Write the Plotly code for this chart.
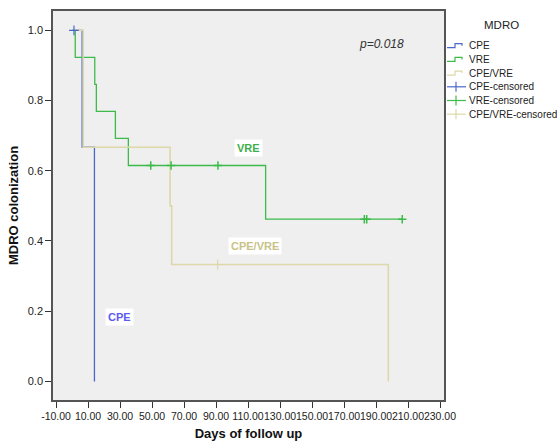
import plotly.graph_objects as go

# ---- data ----
cpe_t = [0, 6.3, 14.0]
cpe_s = [1.0, 0.667, 0.0]
cpe_cens_t = [1.2]
cpe_cens_s = [1.0]

vre_t = [0, 2.0, 14.2, 15.2, 27.1, 35.2, 121.0, 206.4]
vre_s = [1.0, 0.923, 0.846, 0.769, 0.692, 0.615, 0.462, 0.462]
vre_cens_t = [49.2, 61.9, 91.2, 182.7, 184.2, 206.4]
vre_cens_s = [0.615, 0.615, 0.615, 0.462, 0.462, 0.462]

cv_t = [0, 7.0, 61.3, 62.3, 197.7]
cv_s = [1.0, 0.667, 0.5, 0.333, 0.0]
cv_cens_t = [91.0]
cv_cens_s = [0.333]

x_ticks = [-10, 10, 30, 50, 70, 90, 110, 130, 150, 170, 190, 210, 230]
x_ticktext = [f"{v:.2f}" for v in x_ticks]
y_ticks = [0.0, 0.2, 0.4, 0.6, 0.8, 1.0]

legend_names = ["CPE", "VRE", "CPE/VRE", "CPE-censored", "VRE-censored", "CPE/VRE-censored"]

C_CPE = "#4a68cc"
C_VRE = "#3dbb4a"
C_CV = "#ddd8a8"
legend_colors = [C_CPE, C_VRE, C_CV, C_CPE, C_VRE, C_CV]

FONT = "Liberation Sans, Arial, sans-serif"

fig = go.Figure()
fig.add_trace(go.Scatter(x=cpe_t, y=cpe_s, mode="lines", line=dict(color=C_CPE, width=1.3, shape="hv"), name="CPE"))
fig.add_trace(go.Scatter(x=vre_t, y=vre_s, mode="lines", line=dict(color=C_VRE, width=1.3, shape="hv"), name="VRE"))
fig.add_trace(go.Scatter(x=cv_t, y=cv_s, mode="lines", line=dict(color=C_CV, width=1.6, shape="hv"), name="CPE/VRE"))
fig.add_trace(go.Scatter(x=cpe_cens_t, y=cpe_cens_s, mode="markers",
                         marker=dict(symbol="cross-thin", size=7, line=dict(color=C_CPE, width=1.2)),
                         name="CPE-censored"))
fig.add_trace(go.Scatter(x=vre_cens_t, y=vre_cens_s, mode="markers",
                         marker=dict(symbol="cross-thin", size=6, line=dict(color=C_VRE, width=1.5)),
                         name="VRE-censored"))
fig.add_trace(go.Scatter(x=cv_cens_t, y=cv_cens_s, mode="markers",
                         marker=dict(symbol="cross-thin", size=7, line=dict(color=C_CV, width=1.2)),
                         name="CPE/VRE-censored"))

labels = [
    ("VRE", 110.6, 0.665, "#3db04a"),
    ("CPE/VRE", 114.4, 0.385, "#c9c288"),
    ("CPE", 29.4, 0.183, "#5b5bef"),
]
for txt, x, y, col in labels:
    fig.add_annotation(x=x, y=y, text=f"<b>{txt}</b>", showarrow=False,
                       font=dict(family=FONT, size=11, color=col),
                       bgcolor="white", borderpad=2)

fig.add_annotation(x=193.4, y=0.962, text="<i>p=0.018</i>", showarrow=False,
                   font=dict(family=FONT, size=12, color="#333333"))

# ---- manual legend (SPSS style, compact spacing) ----
L, R, T, B = 53, 444, 11, 400
def px(x):
    return (x - L) / (R - L)
def py(y):
    return (B - y) / (B - T)

fig.add_annotation(xref="paper", yref="paper", x=px(501), y=py(25), text="MDRO",
                   xanchor="center", yanchor="middle",
                   showarrow=False, font=dict(family=FONT, size=11.5, color="#222"))
for i, (nm, col) in enumerate(zip(legend_names, legend_colors)):
    yc = 45.7 + i * 13.7
    if i < 3:
        path = (f"M {px(447)},{py(yc+2)} L {px(455)},{py(yc+2)} L {px(455)},{py(yc-2)} "
                f"L {px(462)},{py(yc-2)} L {px(462)},{py(yc)}")
        fig.add_shape(type="path", xref="paper", yref="paper", path=path,
                      line=dict(color=col, width=1.2))
    else:
        fig.add_shape(type="line", xref="paper", yref="paper", x0=px(447), x1=px(466),
                      y0=py(yc), y1=py(yc), line=dict(color=col, width=1.2))
        fig.add_shape(type="line", xref="paper", yref="paper", x0=px(456), x1=px(456),
                      y0=py(yc - 5), y1=py(yc + 5), line=dict(color=col, width=1.2))
    fig.add_annotation(xref="paper", yref="paper", x=px(466.5), y=py(yc),
                       xanchor="left", yanchor="middle", text=nm, showarrow=False,
                       font=dict(family=FONT, size=10, color="#222"))

fig.update_layout(
    width=557, height=443,
    margin=dict(l=L, r=557 - R, t=T, b=443 - B, autoexpand=False),
    paper_bgcolor="white", plot_bgcolor="#efefef",
    font=dict(family=FONT, size=11, color="#222222"),
    showlegend=False,
    xaxis=dict(
        range=[-11.9, 232.5], tickvals=x_ticks, ticktext=x_ticktext, tickangle=0,
        showgrid=False, zeroline=False, showline=True, linecolor="#555555", linewidth=1.5,
        mirror=True, ticks="outside", ticklen=6, tickcolor="#333333", automargin=False,
        tickfont=dict(size=10.5, color="#222"),
        title=dict(text="<b>Days of follow up</b>", font=dict(size=13, color="#111"), standoff=8),
    ),
    yaxis=dict(
        range=[-0.053, 1.055], tickvals=y_ticks, tickformat=".1f",
        showgrid=False, zeroline=False, showline=True, linecolor="#555555", linewidth=1.5,
        mirror=True, ticks="outside", ticklen=6, tickcolor="#333333", automargin=False,
        tickfont=dict(size=11, color="#222"),
        title=dict(text="<b>MDRO colonization</b>", font=dict(size=13, color="#111"), standoff=6),
    ),
)

fig.write_html("out.html", config={"displayModeBar": False},
               post_script="document.body.style.margin='0';")
